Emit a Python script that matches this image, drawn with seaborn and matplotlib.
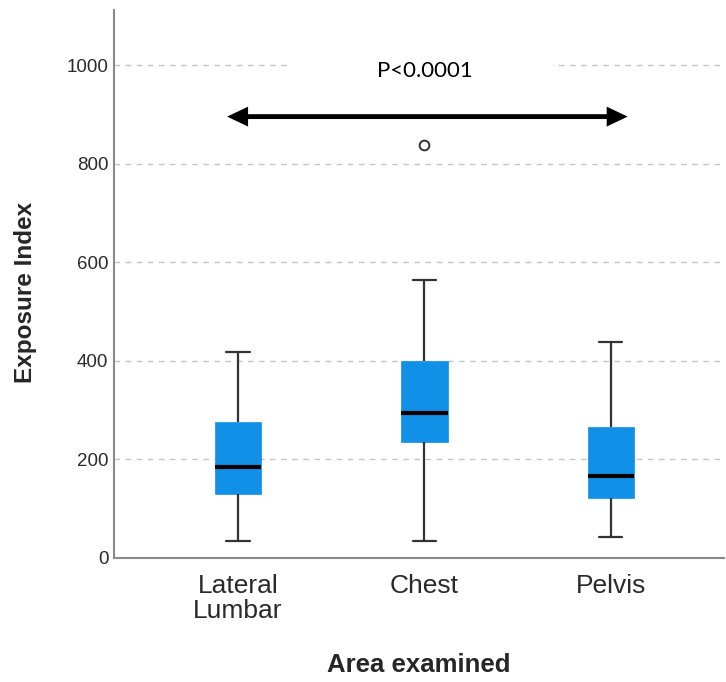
import matplotlib
matplotlib.use("Agg")
import matplotlib.pyplot as plt
import matplotlib.patches as mpatches
import pandas as pd
import seaborn as sns

# Five-number summaries (whisker ends, quartiles, median)
areas = ["Lateral\nLumbar", "Chest", "Pelvis"]
whisker_low = [34, 34, 42]
q1 = [129, 235, 122]
median = [185, 293.5, 166]
q3 = [275, 400, 265]
whisker_high = [418, 564, 438]

outlier_area = ["Chest"]
outlier_value = [838]

y_ticks = [0, 200, 400, 600, 800, 1000]
p_text = "P<0.0001"

# long table: five summary points per area give exact quartiles
rows = []
for i, a in enumerate(areas):
    for v in (whisker_low[i], q1[i], median[i], q3[i], whisker_high[i]):
        rows.append({"area": a, "ei": v})
df = pd.DataFrame(rows)

box_color = "#1190E8"
sns.set_style("white")

fig = plt.figure(figsize=(7.26, 6.82), dpi=100)
ax = fig.add_axes([0.157, 0.182, 0.84, 0.803])

ax.yaxis.grid(True, linestyle=(0, (4, 4)), color="#c4c4c4", linewidth=1)
ax.set_axisbelow(True)

sns.boxplot(data=df, x="area", y="ei", order=areas, color=box_color,
            saturation=1, width=0.25, whis=(0, 100), linewidth=1.6,
            linecolor="#333333", fliersize=0,
            boxprops=dict(edgecolor=box_color, linewidth=0.5),
            medianprops=dict(color="black", linewidth=3),
            ax=ax)

sns.stripplot(x=outlier_area, y=outlier_value, order=areas, jitter=False,
              color="white", edgecolor="#333333", linewidth=1.4, size=7,
              ax=ax, zorder=5)

ax.set_xlim(-0.665, 2.606)
ax.set_ylim(0, 1112)
ax.set_yticks(y_ticks)

# white box behind the p-value text hides the gridline
ax.add_patch(mpatches.Rectangle((0.279, 950), 1.41, 90, facecolor="white",
                                edgecolor="none", zorder=2))
ax.text(1.0, 988, p_text, ha="center", va="center", fontsize=16,
        family=["Lato", "DejaVu Sans"], color="black", zorder=3)
ax.annotate("", xy=(-0.058, 896), xytext=(2.09, 896),
            arrowprops=dict(arrowstyle="<|-|>,head_length=0.42,head_width=0.2",
                            color="black", lw=3.5, mutation_scale=22,
                            shrinkA=0, shrinkB=0, joinstyle="miter",
                            capstyle="butt"),
            zorder=4)

for s in ["top", "right"]:
    ax.spines[s].set_visible(False)
for s in ["left", "bottom"]:
    ax.spines[s].set_color("#8a8a8a")
    ax.spines[s].set_linewidth(1.5)

ax.tick_params(axis="y", length=0, labelsize=13.5, labelcolor="#2a2a2a", pad=4)
ax.tick_params(axis="x", length=0, pad=11.5)
for lab in ax.get_xticklabels():
    lab.set_family(["Liberation Sans", "DejaVu Sans"])
    lab.set_fontsize(19)
    lab.set_color("#2a2a2a")
    lab.set_linespacing(1.05)
for lab in ax.get_yticklabels():
    lab.set_family(["Liberation Sans", "DejaVu Sans"])

ax.set_xlabel("Area examined", fontsize=18.5, fontweight="bold",
              family=["Liberation Sans", "DejaVu Sans"], labelpad=22)
ax.set_ylabel("Exposure Index", fontsize=17.5, fontweight="bold",
              family=["Liberation Sans", "DejaVu Sans"], labelpad=21)
ax.yaxis.label.set_y(0.484)

fig.savefig("out.png", dpi=100)
